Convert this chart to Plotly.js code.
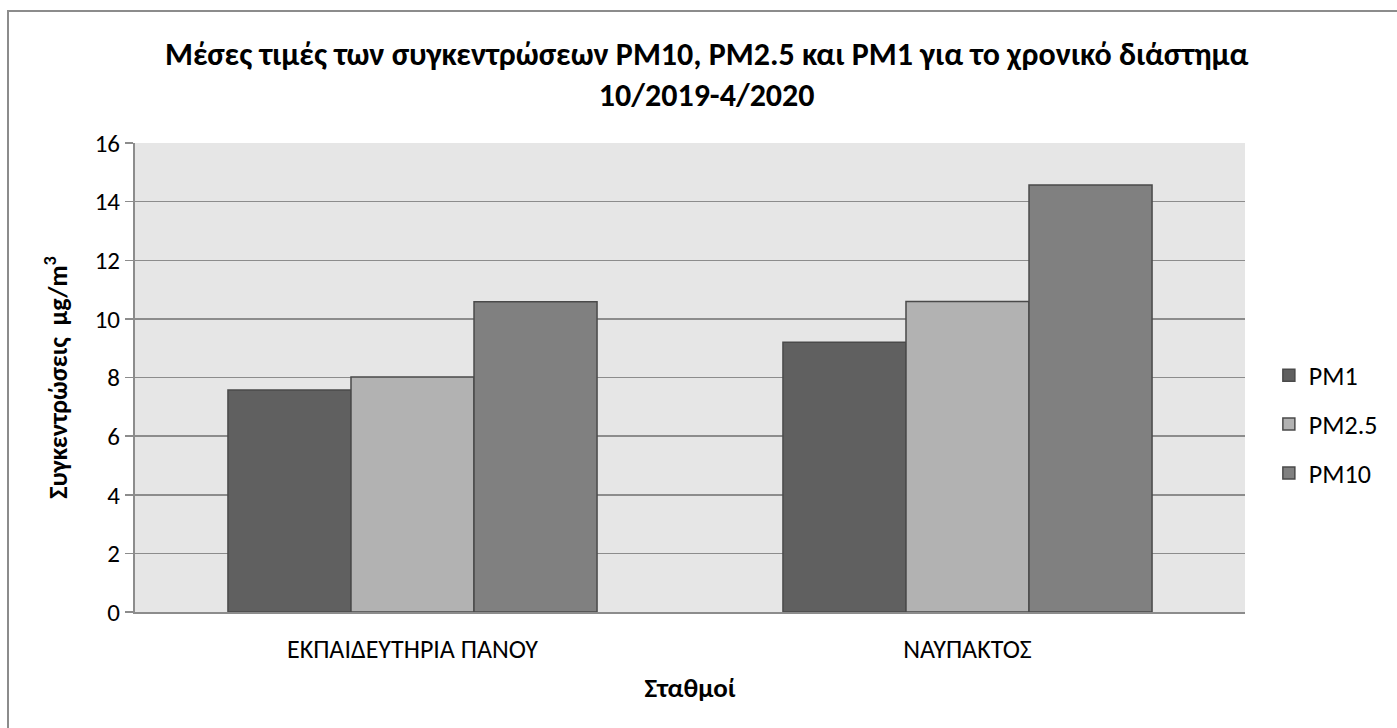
<!DOCTYPE html>
<html>
<head>
<meta charset="utf-8">
<script src="https://cdn.plot.ly/plotly-3.0.1.min.js"></script>
<style>html,body{margin:0;padding:0;background:#fff;}#chart{width:1397px;height:728px;}</style>
</head>
<body>
<div id="chart"></div>
<script>
const stations = ["ΕΚΠΑΙΔΕΥΤΗΡΙΑ ΠΑΝΟΥ", "ΝΑΥΠΑΚΤΟΣ"];
const seriesNames = ["PM1", "PM2.5", "PM10"];
const pm1 = [7.57, 9.20];
const pm25 = [8.02, 10.59];
const pm10 = [10.58, 14.57];
const yTicks = [0, 2, 4, 6, 8, 10, 12, 14, 16];

const FONT = "Carlito, Calibri, 'Liberation Sans Narrow', 'Open Sans', sans-serif";
const colors = ["#606060", "#b2b2b2", "#808080"];
const values = [pm1, pm25, pm10];

const traces = seriesNames.map((name, i) => ({
  type: "bar",
  name: name,
  x: stations,
  y: values[i],
  legendgroup: name,
  marker: {color: colors[i], line: {color: "#4a4a4a", width: 1.5}},
  hoverinfo: "x+y+name"
}));

const layout = {
  width: 1397, height: 728,
  margin: {l: 135, r: 152, t: 143, b: 116},
  paper_bgcolor: "#ffffff",
  plot_bgcolor: "#e6e6e6",
  font: {family: FONT, color: "#000"},
  barmode: "group",
  bargap: 0.335,
  bargroupgap: 0,
  title: {
    text: "<b>Μέσες τιμές των συγκεντρώσεων PM10, PM2.5 και PM1 για το χρονικό διάστημα<br>10/2019-4/2020</b>",
    font: {family: FONT, size: 32, color: "#000"},
    x: 0.515, xref: "paper", xanchor: "center",
    y: 0.911, yref: "container", yanchor: "middle"
  },
  xaxis: {
    type: "category",
    showgrid: false,
    showline: true, linecolor: "#8c8c8c", linewidth: 2,
    ticks: "",
    tickfont: {family: FONT, size: 26, color: "#000"},
    ticklabelstandoff: 13,
    title: {text: "<b>Σταθμοί</b>", font: {family: FONT, size: 27, color: "#000"}, standoff: 14},
    fixedrange: true
  },
  yaxis: {
    range: [0, 16],
    tickvals: yTicks,
    ticktext: yTicks.map(String),
    showgrid: true, gridcolor: "#8c8c8c", gridwidth: 1.5,
    zeroline: false,
    showline: true, linecolor: "#8c8c8c", linewidth: 2,
    ticks: "outside", ticklen: 8, tickcolor: "#8c8c8c", tickwidth: 1.5,
    tickfont: {family: FONT, size: 25, color: "#000"},
    title: {text: "<b>Συγκεντρώσεις  μg/m<sup>3</sup></b>", font: {family: FONT, size: 26, color: "#000"}, standoff: 20},
    fixedrange: true
  },
  legend: {
    x: 1.0215, xanchor: "left", xref: "paper",
    y: 0.40, yanchor: "middle",
    font: {family: FONT, size: 26, color: "#000"},
    tracegroupgap: 12,
    bgcolor: "rgba(0,0,0,0)"
  },
  shapes: [{
    type: "rect", xref: "paper", yref: "paper",
    x0: (8 - 135) / 1110, x1: (1420 - 135) / 1110,
    y0: (612 - 760) / 469, y1: (612 - 11) / 469,
    line: {color: "#8c8c8c", width: 2}, fillcolor: "rgba(0,0,0,0)", layer: "below"
  }],
  showlegend: true
};

Plotly.newPlot("chart", traces, layout, {displayModeBar: false, staticPlot: true});
</script>
</body>
</html>
